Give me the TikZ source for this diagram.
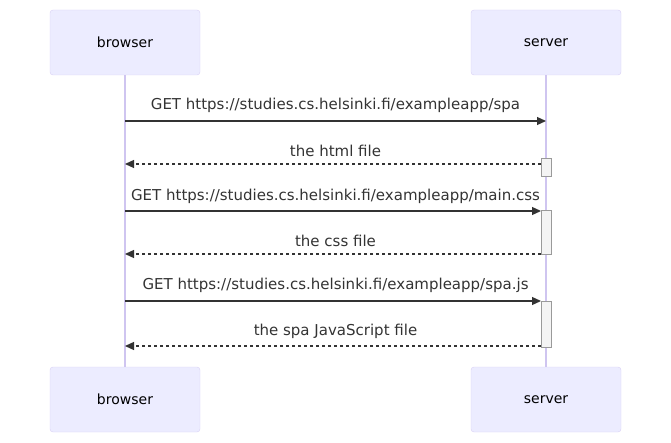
\documentclass[tikz,border=0pt]{standalone}
\usepackage{fontspec}
\setmainfont{DejaVu Sans}
\usetikzlibrary{arrows.meta, positioning}
\definecolor{actFill}{HTML}{ECECFF}
\definecolor{actLine}{HTML}{D9D0F5}
\definecolor{lifeLine}{HTML}{CFC5F0}
\definecolor{msgLine}{HTML}{333333}
\definecolor{barFill}{HTML}{F4F4F4}
\definecolor{barLine}{HTML}{9A9A9A}

\begin{document}
\begin{tikzpicture}[x=1pt, y=-1pt,
    actor/.style={rectangle, rounded corners=3pt, minimum width=150pt,
                  minimum height=65pt, fill=actFill, draw=actLine,
                  font=\fontsize{14}{16}\selectfont},
    bar/.style={rectangle, minimum width=10pt, fill=barFill, draw=barLine,
                line width=1pt, inner sep=0pt},
    msg/.style={-{Triangle[length=9pt, width=8pt]}, draw=msgLine, line width=1.2pt},
    reply/.style={msg, dash pattern=on 3pt off 3pt},
    lbl/.style={font=\fontsize{15}{17}\selectfont, text=msgLine, inner sep=0pt}
  ]
  \useasboundingbox (0,0) rectangle (671,443);

  % participants
  \node[actor] (browser) at (125, 42.5) {browser};
  \node[actor] (server)  at (546, 42.5) {server};
  \node[actor] (browserB) at (125, 399.5) {browser};
  \node[actor] (serverB)  at (546, 399.5) {server};

  \draw[lifeLine, line width=1.5pt] (browser) -- (browserB);
  \draw[lifeLine, line width=1.5pt] (server) -- (serverB);

  % activations
  \node[bar, minimum height=18pt] (act1) at (546, 168) {};
  \node[bar, minimum height=44pt] (act2) at (546, 233) {};
  \node[bar, minimum height=46pt] (act3) at (546, 324) {};

  % end points on the lifelines
  \coordinate (b1) at (125, 121);  \coordinate (s1) at (546, 121);
  \coordinate (b2) at (125, 164);  \coordinate (s2) at (541, 164);
  \coordinate (b3) at (125, 211);  \coordinate (s3) at (541, 211);
  \coordinate (b4) at (125, 254);  \coordinate (s4) at (541, 254);
  \coordinate (b5) at (125, 301);  \coordinate (s5) at (541, 301);
  \coordinate (b6) at (125, 346);  \coordinate (s6) at (541, 346);

  % messages
  \draw[msg]   (b1) -- (s1);
  \draw[reply] (s2) -- (b2);
  \draw[msg]   (b3) -- (s3);
  \draw[reply] (s4) -- (b4);
  \draw[msg]   (b5) -- (s5);
  \draw[reply] (s6) -- (b6);

  \node[lbl] (m1) at (335.5, 105) {GET https://studies.cs.helsinki.fi/exampleapp/spa};
  \node[lbl] (m2) at (335.5, 151) {the html file};
  \node[lbl] (m3) at (335.5, 196) {GET https://studies.cs.helsinki.fi/exampleapp/main.css};
  \node[lbl] (m4) at (335.5, 241) {the css file};
  \node[lbl] (m5) at (335.5, 285) {GET https://studies.cs.helsinki.fi/exampleapp/spa.js};
  \node[lbl] (m6) at (335.5, 331) {the spa JavaScript file};
\end{tikzpicture}
\end{document}
